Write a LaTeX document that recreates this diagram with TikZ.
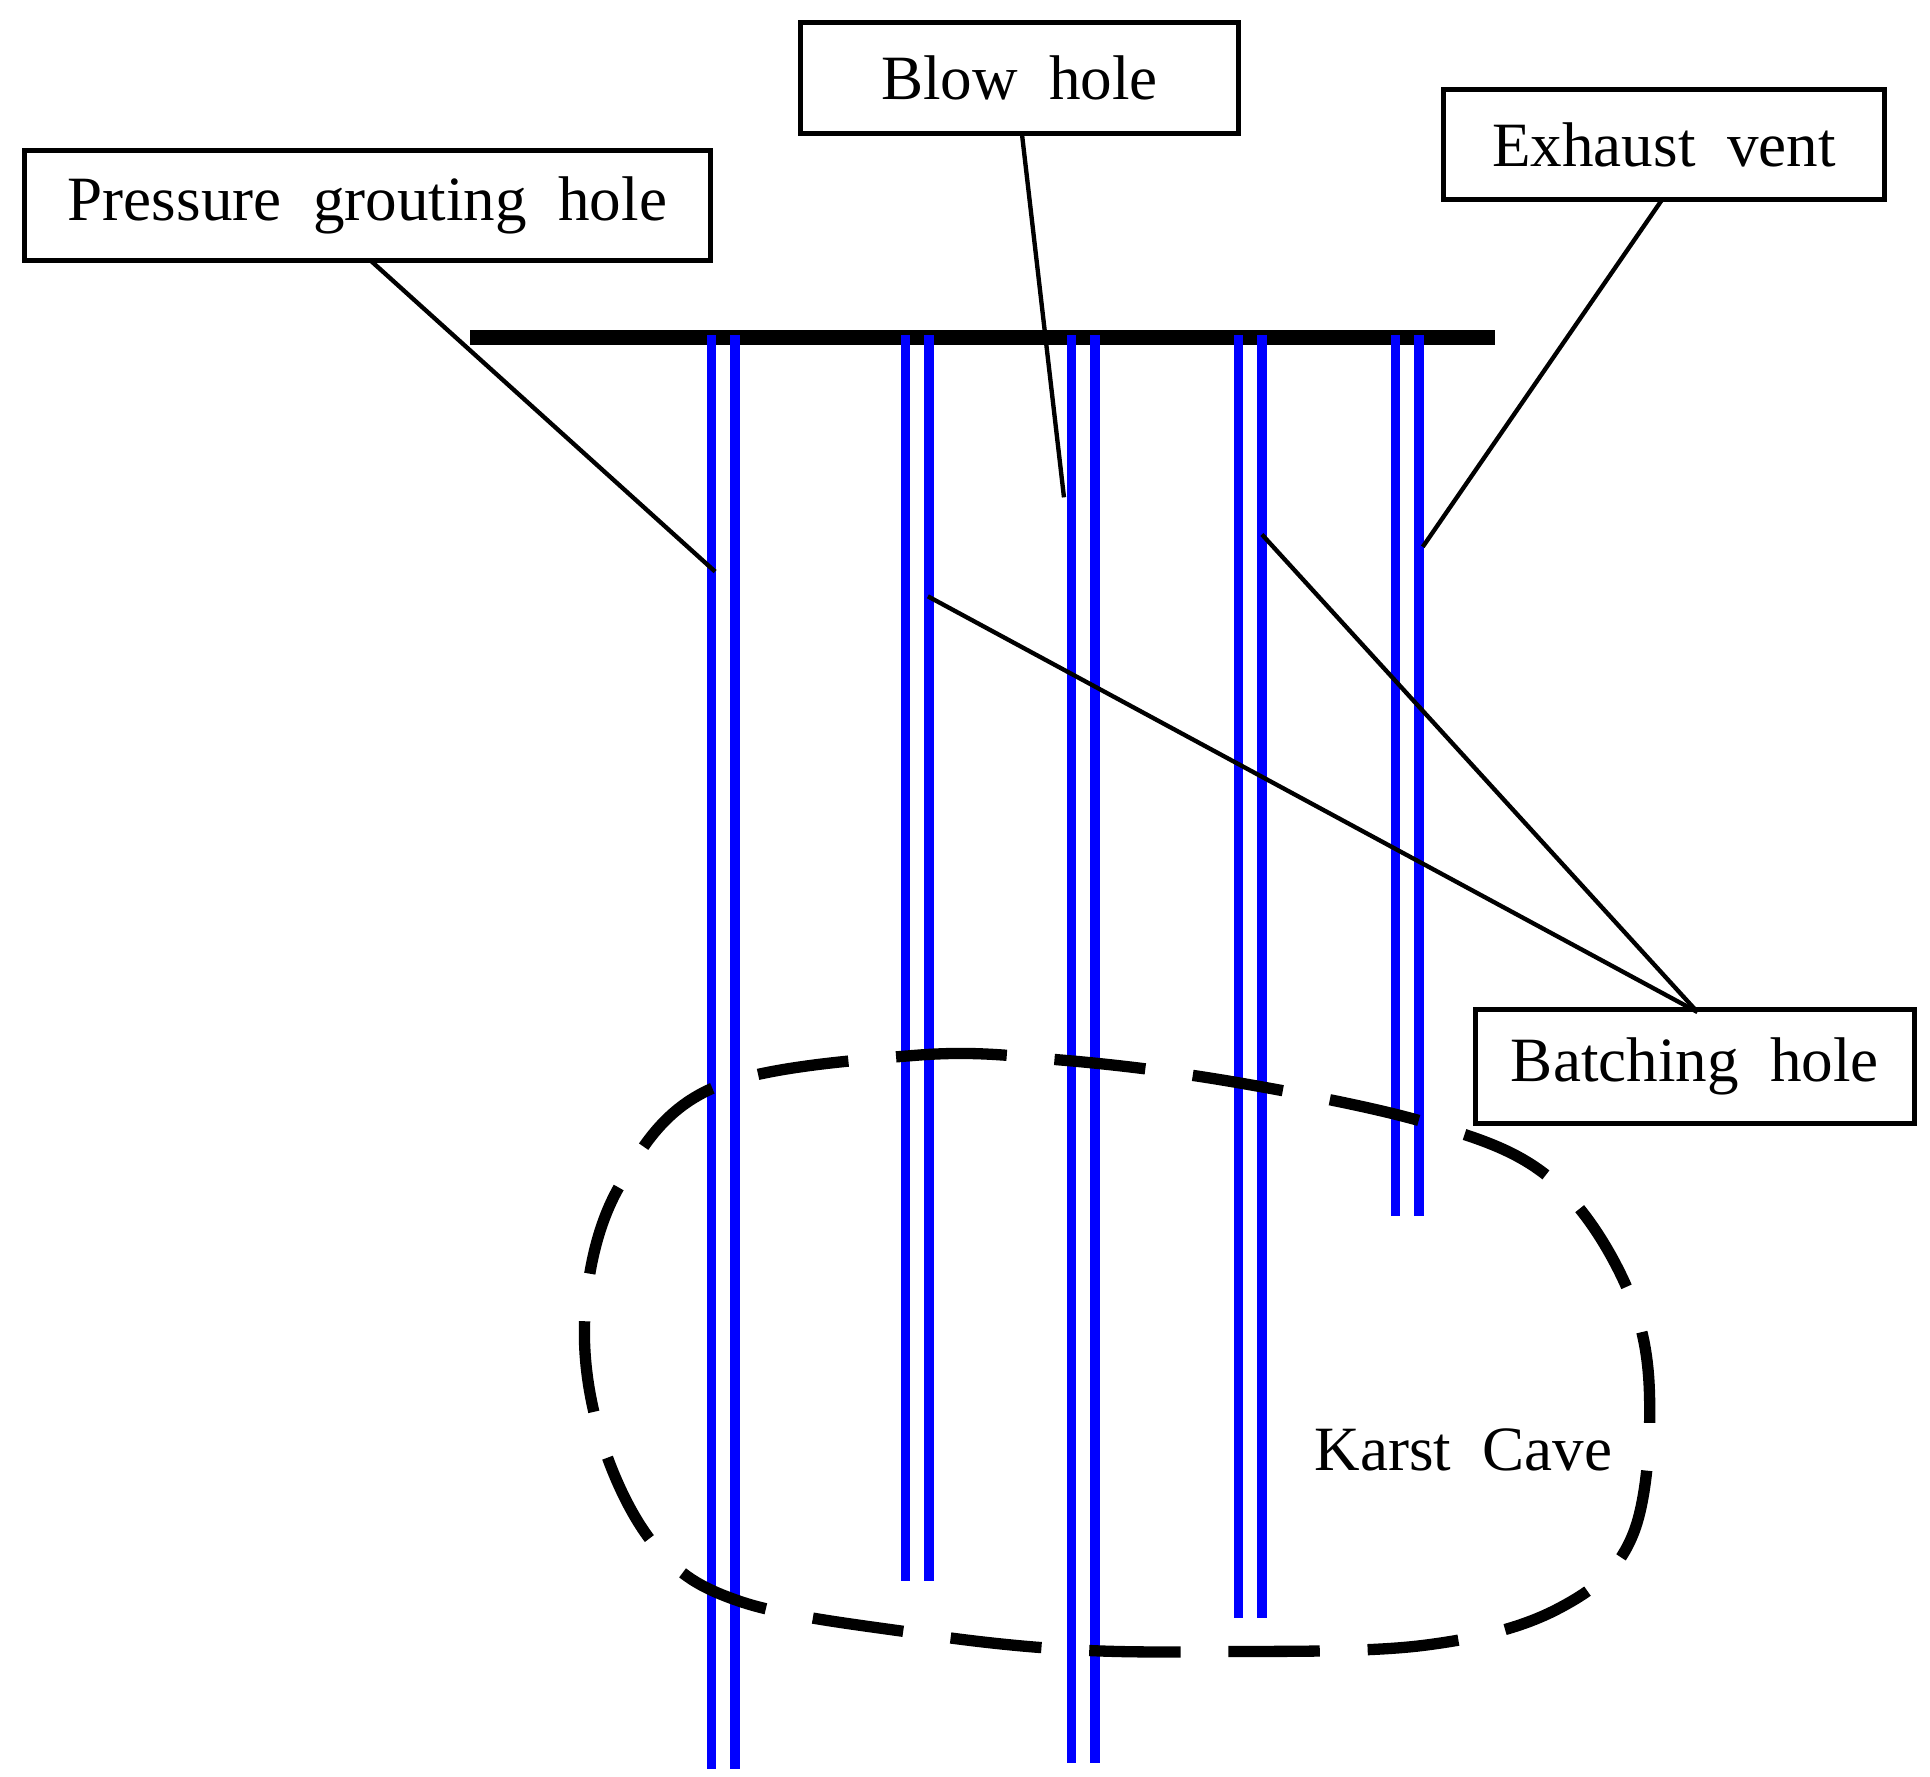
\documentclass[tikz,border=0pt]{standalone}
\usepackage{fontspec}
\setmainfont{Liberation Serif}
\begin{document}
\begin{tikzpicture}[x=0.01cm,y=-0.01cm,
  lbl/.style={draw,line width=1.2pt,inner sep=0pt,font=\fontsize{14.5}{16}\selectfont},
  pipe/.style={blue,line width=2.2pt},
  lead/.style={line width=1pt}]
\useasboundingbox (0,0) rectangle (1560,1436);
\draw[line width=3.5pt] (380,273) -- (1208,273);
\foreach \a/\b in {575/1430,594/1430,732/1278,751/1278,866/1425,885/1425,1001/1308,1020/1308,1128/983,1147/983}
  \draw[pipe] (\a,271) -- (\a,\b);
\node[lbl,minimum width=5.54cm,minimum height=0.89cm] (pg) at (297,166) {Pressure\ \ grouting\ \ hole};
\node[lbl,minimum width=3.54cm,minimum height=0.9cm] (bh) at (824,63) {Blow\ \ hole};
\node[lbl,minimum width=3.56cm,minimum height=0.89cm] (ev) at (1345,117) {Exhaust\ \ vent};
\node[lbl,minimum width=3.55cm,minimum height=0.92cm] (bt) at (1370,862) {Batching\ \ hole};
\coordinate (p1) at (578,462);
\coordinate (p2) at (860,402);
\coordinate (p3) at (1150,442);
\coordinate (p4) at (750,482);
\coordinate (p5) at (1020,432);
\coordinate (bq) at (1372,818);
\draw[lead] (300,211) -- (p1);
\draw[lead] (826,108) -- (p2);
\draw[lead] (1343,162) -- (p3);
\draw[lead] (bq) -- (p4);
\draw[lead] (bq) -- (p5);
\draw[line width=2.6pt,dash pattern=on 21pt off 11pt] plot[smooth cycle,tension=0.6] coordinates {(575,880) (740,853) (860,857) (1000,875) (1155,908) (1250,950) (1310,1030) (1333,1120) (1320,1240) (1260,1300) (1150,1330) (980,1335) (860,1333) (740,1320) (600,1295) (530,1250) (485,1160) (473,1060) (500,960)};
\node[font=\fontsize{14.5}{16}\selectfont] (kc) at (1183,1172) {Karst\ \ Cave};
\end{tikzpicture}
\end{document}
